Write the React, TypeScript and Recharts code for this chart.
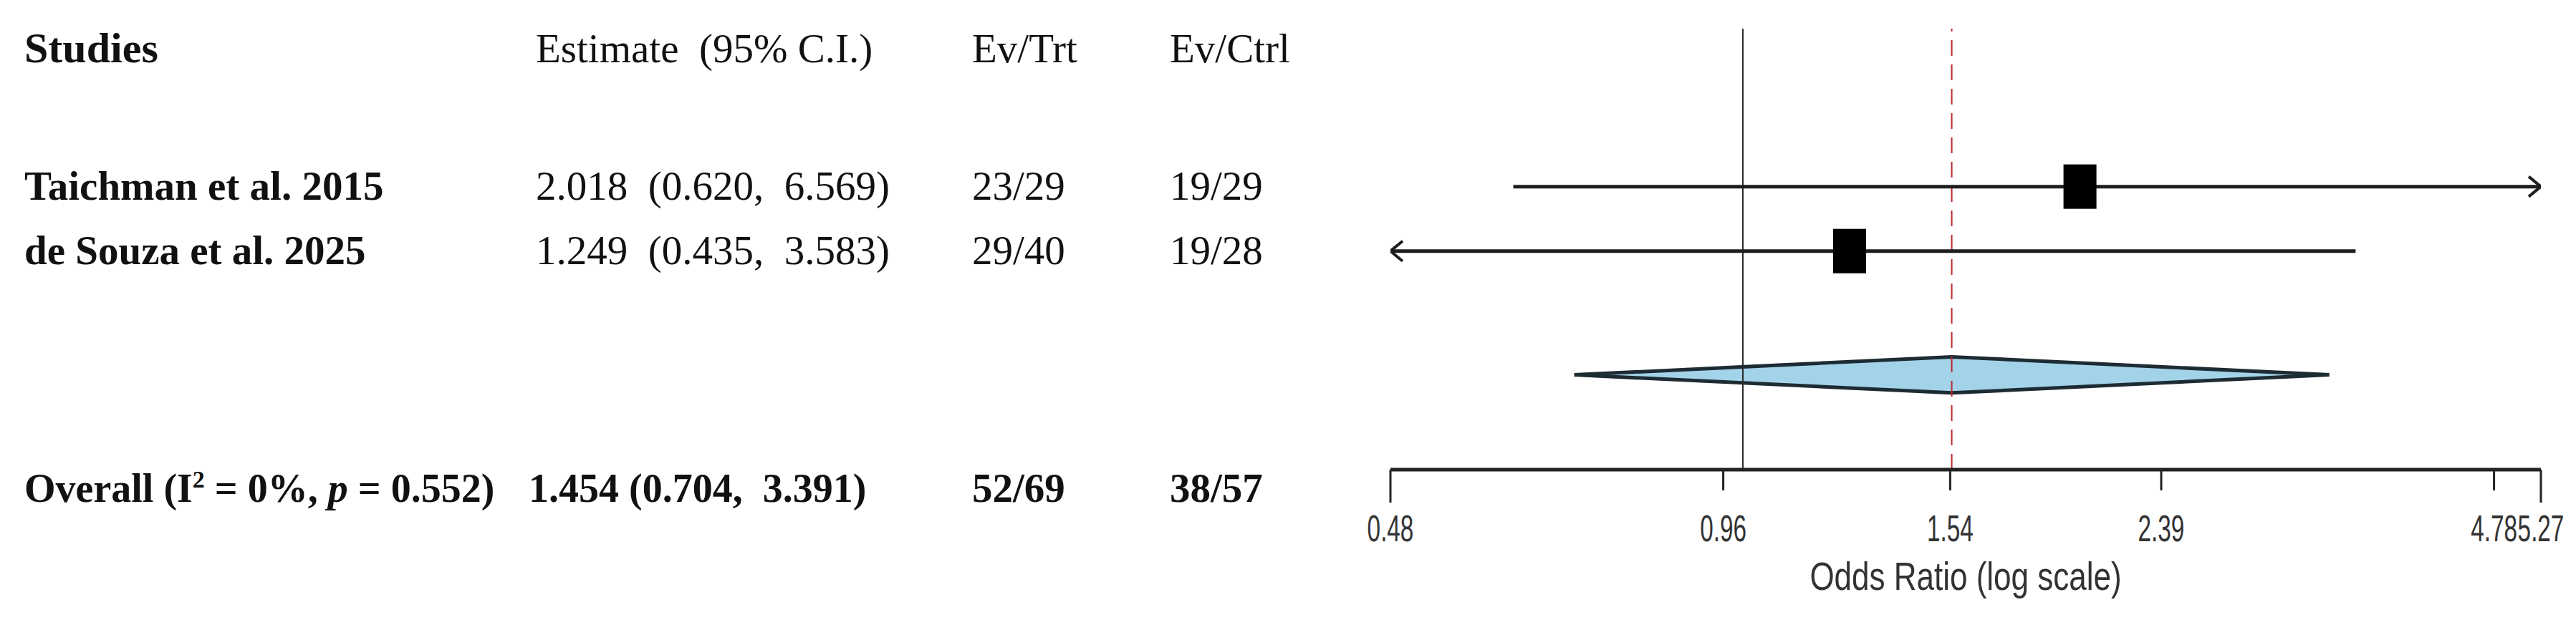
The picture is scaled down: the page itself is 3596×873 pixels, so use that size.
import React from 'react';
import { ComposedChart, Line, Area, Scatter, XAxis, YAxis, ReferenceLine } from 'recharts';

// study rows
const studies = ['Taichman et al. 2015', 'de Souza et al. 2025'];
const estimates = [2.018, 1.249];
const lowerCI = [0.62, 0.435];
const upperCI = [6.569, 3.583];
const estimateLabels = ['2.018  (0.620,  6.569)', '1.249  (0.435,  3.583)'];
const evTrt = ['23/29', '29/40'];
const evCtrl = ['19/29', '19/28'];
const studyRows = [1, 2];

// pooled result
const overallLabel = '1.454 (0.704,  3.391)';
const overallLower = 0.704;
const overallUpper = 3.391;
const overallCenter = 1.545; // where the diamond / red line is drawn
const overallEvTrt = '52/69';
const overallEvCtrl = '38/57';
const overallI2 = '0%';
const overallP = '0.552';
const summaryRow = 3.92;

// axis
const xTicks = [0.48, 0.96, 1.54, 2.39, 4.78, 5.27];
const xDomain = [0.48, 5.27];
const yDomain = [-1.45, 5.39];

const W = 3596;
const H = 873;
const serif = "'Liberation Serif', 'DejaVu Serif', serif";
const sans = "'Liberation Sans', Arial, sans-serif";

const ciData = studies.map((_, i) => [
  { x: Math.max(lowerCI[i], xDomain[0]), y: studyRows[i], arrow: lowerCI[i] < xDomain[0] ? 'left' : '' },
  { x: Math.min(upperCI[i], xDomain[1]), y: studyRows[i], arrow: upperCI[i] > xDomain[1] ? 'right' : '' },
]);

const pointData = studies.map((_, i) => ({ x: estimates[i], y: studyRows[i] }));

const diamondHalf = 0.28;
const diamondData = [
  { x: overallLower, range: [summaryRow, summaryRow] },
  { x: overallCenter, range: [summaryRow - diamondHalf, summaryRow + diamondHalf] },
  { x: overallUpper, range: [summaryRow, summaryRow] },
];

const renderArrow = (props: any) => {
  const { cx, cy, payload, index } = props;
  if (!payload || !payload.arrow) return <g key={`a${index}`} />;
  const d = payload.arrow === 'right' ? -17 : 17;
  return (
    <polyline
      key={`a${index}`}
      points={`${cx + d},${cy - 14} ${cx},${cy} ${cx + d},${cy + 14}`}
      fill="none"
      stroke="#1e1e1e"
      strokeWidth={4}
    />
  );
};

const renderSquare = (props: any) => {
  const { cx, cy } = props;
  return <rect x={cx - 23} y={cy - 31} width={46} height={62} fill="#000" />;
};

const AxisTick = (props: any) => {
  const { x, y, payload } = props;
  const isEnd = payload.value === xDomain[0] || payload.value === xDomain[1];
  return (
    <g>
      <line x1={x} x2={x} y1={y} y2={y + (isEnd ? 46 : 29)} stroke="#222" strokeWidth={3} />
      <text
        transform={`translate(${x},${y + 100}) scale(0.64,1)`}
        textAnchor="middle"
        fontFamily={sans}
        fontSize={52}
        fill="#333"
      >
        {payload.value}
      </text>
    </g>
  );
};

function TableText() {
  const base = { fontFamily: serif, fontSize: 57, fill: '#111', style: { whiteSpace: 'pre' as const } };
  const colStudy = 34;
  const colEst = 748;
  const colTrt = 1357;
  const colCtrl = 1633;
  const rowY = [279, 369];
  return (
    <svg width={W} height={H} style={{ position: 'absolute', left: 0, top: 0, pointerEvents: 'none' }}>
      <text x={colStudy} y={87} {...base} fontSize={60} fontWeight="bold">Studies</text>
      <text x={colEst} y={87} {...base}>Estimate  (95% C.I.)</text>
      <text x={colTrt} y={87} {...base}>Ev/Trt</text>
      <text x={colCtrl} y={87} {...base}>Ev/Ctrl</text>
      {studies.map((s, i) => (
        <g key={s}>
          <text x={colStudy} y={rowY[i]} {...base} fontWeight="bold">{s}</text>
          <text x={colEst} y={rowY[i]} {...base}>{estimateLabels[i]}</text>
          <text x={colTrt} y={rowY[i]} {...base}>{evTrt[i]}</text>
          <text x={colCtrl} y={rowY[i]} {...base}>{evCtrl[i]}</text>
        </g>
      ))}
      <text x={colStudy} y={701} {...base} fontSize={56} fontWeight="bold">
        Overall (I<tspan fontSize={34} dy={-20}>2</tspan><tspan dy={20}>{` = ${overallI2}, `}</tspan>
        <tspan fontStyle="italic">p</tspan>{` = ${overallP})`}
      </text>
      <text x={738} y={701} {...base} fontSize={56} fontWeight="bold">{overallLabel}</text>
      <text x={colTrt} y={701} {...base} fontWeight="bold">{overallEvTrt}</text>
      <text x={colCtrl} y={701} {...base} fontWeight="bold">{overallEvCtrl}</text>
      <text
        transform={`translate(2744,824) scale(0.8,1)`}
        textAnchor="middle"
        fontFamily={sans}
        fontSize={55}
        fill="#333"
      >
        Odds Ratio (log scale)
      </text>
    </svg>
  );
}

export default function App() {
  return (
    <div style={{ position: 'absolute', left: 0, top: 0, width: W, height: H, background: '#fff' }}>
      <ComposedChart width={W} height={H} margin={{ top: 40, right: 49, bottom: 67, left: 1941 }}>
        <XAxis
          dataKey="x"
          type="number"
          scale="log"
          domain={xDomain}
          allowDataOverflow
          ticks={xTicks}
          interval={0}
          height={150}
          tickLine={false}
          tickSize={0}
          tickMargin={0}
          axisLine={{ stroke: '#222', strokeWidth: 5 }}
          tick={<AxisTick />}
        />
        <YAxis dataKey="y" type="number" domain={yDomain} reversed hide allowDataOverflow />
        <Area
          data={diamondData}
          dataKey="range"
          type="linear"
          fill="#a3d3e8"
          fillOpacity={1}
          stroke="#1d2b33"
          strokeWidth={5}
          isAnimationActive={false}
        />
        <ReferenceLine x={1} stroke="#2a2a2a" strokeWidth={2} />
        <ReferenceLine x={overallCenter} stroke="#b8282b" strokeWidth={2} strokeDasharray="22 12" />
        {ciData.map((d, i) => (
          <Line
            key={studies[i]}
            data={d}
            dataKey="y"
            type="linear"
            stroke="#1e1e1e"
            strokeWidth={5}
            dot={renderArrow}
            activeDot={false}
            isAnimationActive={false}
          />
        ))}
        <Scatter data={pointData} shape={renderSquare} isAnimationActive={false} />
      </ComposedChart>
      <TableText />
    </div>
  );
}
